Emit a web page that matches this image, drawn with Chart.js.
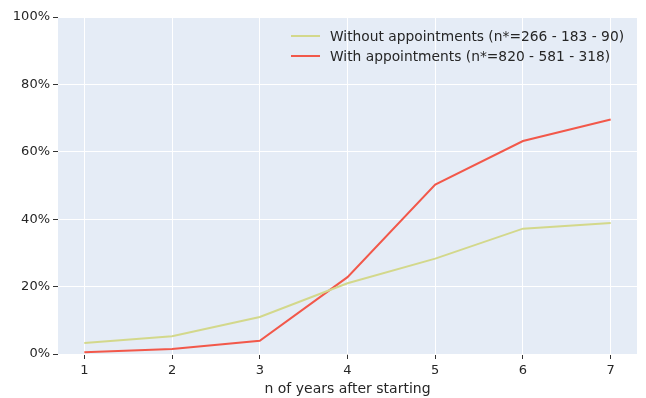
<!DOCTYPE html>
<html>
<head>
<meta charset="utf-8">
<script src="https://cdn.jsdelivr.net/npm/chart.js@4.4.1/dist/chart.umd.min.js"></script>
<style>
  html, body { margin: 0; padding: 0; background: #fff; }
  #wrap { width: 646px; height: 398px; }
</style>
</head>
<body>
<div id="wrap"><canvas id="canvas" width="646" height="398"></canvas></div>
<script>
// chart values
const years = [1, 2, 3, 4, 5, 6, 7];
const withoutAppointments = [3.3, 5.3, 11.0, 21.0, 28.3, 37.2, 38.9];
const withAppointments = [0.5, 1.5, 3.9, 22.8, 50.3, 63.2, 69.6];
const yTicks = [0, 20, 40, 60, 80, 100];
const seriesLabels = ['Without appointments (n*=266 - 183 - 90)', 'With appointments (n*=820 - 581 - 318)'];

const font = "'DejaVu Sans', sans-serif";

// legend drawn inside the plot, top right
const insideLegend = {
  id: 'insideLegend',
  afterDraw(chart) {
    const ctx = chart.ctx;
    ctx.save();
    ctx.font = '13.8px ' + font;
    ctx.textBaseline = 'middle';
    chart.data.datasets.forEach((ds, i) => {
      const y = 36 + i * 20;
      ctx.strokeStyle = ds.borderColor;
      ctx.lineWidth = 2;
      ctx.beginPath();
      ctx.moveTo(291, y);
      ctx.lineTo(320, y);
      ctx.stroke();
      ctx.fillStyle = '#262626';
      ctx.fillText(ds.label, 330, y + 1);
    });
    ctx.restore();
  }
};

// plot background
const plotBg = {
  id: 'plotBg',
  beforeDraw(chart) {
    const a = chart.chartArea;
    chart.ctx.save();
    chart.ctx.fillStyle = '#e5ecf6';
    chart.ctx.fillRect(a.left, a.top, a.right - a.left, a.bottom - a.top);
    chart.ctx.restore();
  }
};

var config = {
  type: 'line',
  data: {
    datasets: [{
      label: seriesLabels[0],
      data: years.map((x, i) => ({x: x, y: withoutAppointments[i]})),
      borderColor: '#d3d88b',
      borderWidth: 2,
      pointRadius: 0,
      fill: false
    }, {
      label: seriesLabels[1],
      data: years.map((x, i) => ({x: x, y: withAppointments[i]})),
      borderColor: '#f2584a',
      borderWidth: 2,
      pointRadius: 0,
      fill: false
    }]
  },
  options: {
    responsive: false,
    animation: false,
    layout: { padding: { top: 17, right: 9, left: 0, bottom: 0 } },
    plugins: {
      legend: { display: false },
      tooltip: { enabled: false }
    },
    scales: {
      x: {
        type: 'linear',
        min: 0.7,
        max: 7.3,
        afterBuildTicks: (scale) => { scale.ticks = years.map(v => ({value: v})); },
        afterFit: (scale) => { scale.height = 44; },
        border: { display: false },
        grid: { color: '#ffffff', lineWidth: 1, tickColor: '#333333', tickLength: 5 },
        ticks: { color: '#262626', font: { family: font, size: 13 }, padding: 4, maxRotation: 0 },
        title: { display: true, text: 'n of years after starting', color: '#262626',
                 font: { family: font, size: 14 }, padding: { top: 2, bottom: 0 } }
      },
      y: {
        min: 0,
        max: 100,
        afterBuildTicks: (scale) => { scale.ticks = yTicks.map(v => ({value: v})); },
        afterFit: (scale) => { scale.width = 58; },
        border: { display: false },
        grid: { color: '#ffffff', lineWidth: 1, tickColor: '#333333', tickLength: 5 },
        ticks: { color: '#262626', font: { family: font, size: 13 }, padding: 3,
                 callback: (v) => v + '%' }
      }
    }
  },
  plugins: [plotBg, insideLegend]
};

window.myLine = new Chart(document.getElementById('canvas'), config);
</script>
</body>
</html>
